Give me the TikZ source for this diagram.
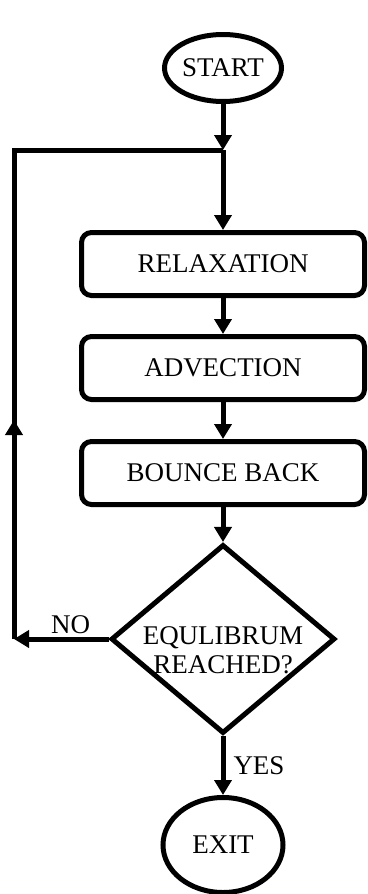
\documentclass[tikz,border=0pt]{standalone}
\usepackage{fontspec}
\setmainfont{Liberation Serif}
\usetikzlibrary{positioning,shapes.geometric,arrows.meta,decorations.markings}

\begin{document}
\begin{tikzpicture}[x=1pt,y=-1pt,on grid,line width=5pt,
    every node/.style={font=\fontsize{27}{29}\selectfont},
    term/.style={ellipse,draw,inner sep=0pt},
    proc/.style={rectangle,draw,rounded corners=10pt,minimum width=283pt,minimum height=63pt},
    decide/.style={diamond,draw,inner sep=0pt,minimum width=224pt,minimum height=189pt},
    tag/.style={inner sep=1pt},
    flow/.style={-{Triangle[length=15pt,width=17pt]}},
    upflow/.style={postaction={decorate},decoration={markings,
        mark=at position 219pt with {\arrow{Triangle[length=15pt,width=17pt]}}}}]
    \useasboundingbox (0,0) rectangle (367,894);
    \node[term,minimum width=117pt,minimum height=67pt] (start) at (223,68) {START};
    \coordinate[below=82pt of start] (join);
    \node[proc]   (relax)  [below=196pt of start] {RELAXATION};
    \node[proc]   (advec)  [below=104pt of relax] {ADVECTION};
    \node[proc]   (bounce) [below=105pt of advec] {BOUNCE BACK};
    \node[decide] (check)  [below=166pt of bounce] {};
    \node[align=center] (checktxt) [below=11pt of check] {EQULIBRUM\\REACHED?};
    \node[term,minimum width=120pt,minimum height=95pt] (exit) [below=206pt of check] {EXIT};
    \coordinate[left=209pt of check] (back);
    \coordinate (corner) at (back |- join);
    \draw[flow] (start) -- (join);
    \draw[flow] (join) -- (relax);
    \draw[flow] (relax) -- (advec);
    \draw[flow] (advec) -- (bounce);
    \draw[flow] (bounce) -- (check);
    \draw[flow] (check) -- node[tag,right=7pt] {YES} (exit);
    \draw[flow] (check) -- node[tag,above=2pt,pos=0.4] {NO} (back);
    \draw[upflow] (back) -- (corner) -- (join);
\end{tikzpicture}
\end{document}
